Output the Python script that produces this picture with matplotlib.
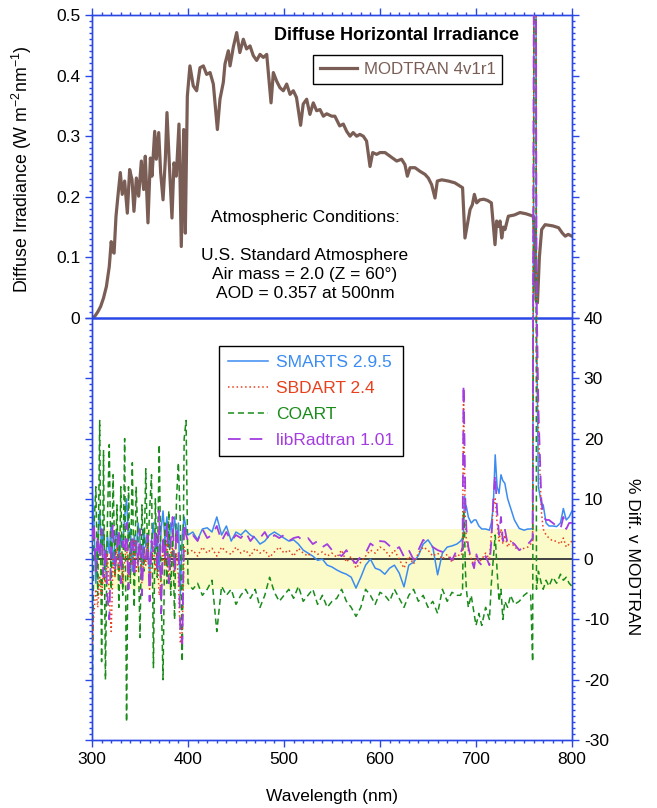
import numpy as np
import matplotlib
matplotlib.use('Agg')
import matplotlib.pyplot as plt
from matplotlib.ticker import FixedLocator, FuncFormatter

plt.rcParams['font.family'] = ['Liberation Sans', 'DejaVu Sans']
plt.rcParams['mathtext.fontset'] = 'custom'
plt.rcParams['mathtext.rm'] = 'Liberation Sans'
plt.rcParams['axes.unicode_minus'] = False
plt.rcParams['font.size'] = 12.5

# --- MODTRAN diffuse irradiance (W m-2 nm-1) ---
modtran_wl = [300, 303, 306, 309, 312, 315, 318, 320, 321.5, 323, 325, 327, 329.5, 331.5, 334,
              336.8, 339.2, 341.7, 343.7, 346.2, 348.6, 351.4, 353.8, 355.5, 358.3, 360.8, 362.5,
              365.3, 367, 369.5, 371.5, 374, 376.4, 378.1, 380.5, 383.3, 385.4, 387.8, 390.6, 393,
              395.5, 397.2, 399.3, 402, 405.5, 409, 412.5, 416, 419.4, 423, 426.4, 430.6, 433.3,
              436.8, 438.5, 442, 443.8, 447.2, 450.7, 454, 457.6, 461, 464.6, 468, 471.5, 475,
              478.5, 482, 486.5, 488.9, 492.3, 495.8, 499.3, 502.8, 506.3, 509.7, 513, 517.3, 520,
              523.6, 527, 530.5, 534, 537.5, 541, 544.5, 549.7, 553, 558, 561.8, 565.3, 568.8, 572,
              575.7, 579, 582.6, 586, 589.6, 592.4, 596.5, 600, 605.2, 610.4, 617.4, 622.5, 626,
              628.5, 631.3, 636.5, 641.7, 646.9, 650.3, 653.8, 657.3, 659.7, 664.3, 671.2, 678, 686,
              688.5, 691, 693.8, 696.2, 698.3, 700.7, 704, 708, 712, 716, 719.8, 721.5, 723.3, 725,
              726.8, 728.5, 730.2, 733.7, 740, 745.8, 752, 759.7, 761, 762.5, 764, 766, 768.4, 772,
              780, 786, 790, 793, 796, 800]
modtran = [0.0, 0.003, 0.010, 0.019, 0.033, 0.052, 0.085, 0.126, 0.110, 0.107, 0.168, 0.201, 0.240,
           0.204, 0.226, 0.173, 0.245, 0.228, 0.176, 0.231, 0.201, 0.259, 0.212, 0.267, 0.157, 0.264,
           0.234, 0.308, 0.262, 0.306, 0.240, 0.195, 0.262, 0.339, 0.256, 0.165, 0.256, 0.234, 0.320,
           0.118, 0.311, 0.140, 0.366, 0.416, 0.383, 0.375, 0.413, 0.416, 0.402, 0.405, 0.386, 0.311,
           0.361, 0.389, 0.419, 0.441, 0.416, 0.447, 0.471, 0.438, 0.460, 0.444, 0.449, 0.433, 0.425,
           0.435, 0.430, 0.435, 0.355, 0.405, 0.391, 0.380, 0.375, 0.386, 0.369, 0.375, 0.364, 0.318,
           0.353, 0.361, 0.336, 0.355, 0.342, 0.344, 0.333, 0.337, 0.333, 0.333, 0.317, 0.320, 0.308,
           0.300, 0.306, 0.300, 0.303, 0.300, 0.292, 0.250, 0.273, 0.270, 0.273, 0.273, 0.267, 0.259,
           0.262, 0.253, 0.234, 0.248, 0.248, 0.242, 0.237, 0.231, 0.220, 0.198, 0.226, 0.228, 0.226,
           0.223, 0.215, 0.132, 0.154, 0.179, 0.187, 0.204, 0.190, 0.195, 0.196, 0.194, 0.190, 0.121,
           0.160, 0.151, 0.160, 0.132, 0.150, 0.146, 0.168, 0.170, 0.174, 0.172, 0.168, 0.140, 0.030,
           0.025, 0.100, 0.146, 0.154, 0.152, 0.149, 0.140, 0.135, 0.138, 0.135]

# --- % difference vs MODTRAN, sampled wavelengths ---
diff_wl = (list(range(300, 401, 2)) + list(range(405, 681, 5)) +
           [684, 686, 687, 688, 689, 690, 692, 695, 698, 700, 703, 706, 710, 714, 716, 718, 720,
            722, 724, 726, 728, 730, 733, 736, 740, 745, 750, 754, 757, 759, 760, 761, 762, 763,
            765, 768, 770, 773, 776, 780, 784, 788, 791, 794, 797, 800])

smarts = ([12, 6, -4, 3, 8, 2, 5, -2, 4, 1, 6, -1, 3, 5, 0, 4, 2, 7, 10, 3, 5, -2, 4, 1, 6, 3, -1,
           5, 2, 4, -3, 3, 6, 1, 4, -2, 5, 8, 3, 7, 2, 6, 4, 7, 3, 6, -6, 4, 7, 5, 4] +
          [4.5, 3.2, 5, 5.2, 4.5, 7, 4, 5.5, 3, 4.5, 4, 4.8, 4, 3.5, 2.5, 3, 4, 4.5, 4, 3.5, 3, 3.2,
           2.5, 1.5, 1, 0.5, -0.2, 0, -1, -1.3, -1.8, -2.2, -2.5, -3, -4.8, -3, -1, 0, -1.5, -1.8,
           -2.5, -1.5, -1, -2.3, -4.6, -1, -0.5, 0.6, 2.5, 3.2, 2, -2.6, 1, 2, 2.2, 2.5] +
          [3, 3.5, 4.3, 10.4, 9, 8.7, 7, 6, 6.5, 6.5, 5.5, 5, 5, 4.8, 6, 8.7, 17.3, 12, 10.9, 14, 13,
           12.6, 10, 8.5, 6.5, 5.1, 4.8, 5, 5, 5.1, 60, 150, 150, 40, 12, 9.3, 9, 6, 5.5, 5.5, 5.4,
           6, 8.4, 6.5, 7, 8])

sbdart = ([-14, -9, -5, -8, -3, -6, -2, -4, 1, -6, -12, 0, -3, 2, -2, 1, -4, 0, 2, -3, 1, -1, 3,
           -2, 0, 2, -4, 1, -1, 3, -5, 0, 2, -2, 1, -6, -3, 2, -1, 3, -4, 1, 2, -2, 1, -3, -14, -12,
           2, 1, 1] +
          [1.5, 0.5, 2, 1, 1.8, 0.5, 2, 1.2, 0.8, 2, 1, 1.5, 0.5, 1.8, 1, 1.5, 0.3, 1.2, 2, 1, 1.5,
           0.5, 1.8, 1, 0.5, 1.5, 0.8, 1.2, 0.5, 1, 0.3, 1.5, -0.5, 0.5, -1.5, -0.5, 0.5, 1.5, 1, 2,
           1.5, 0.5, 1.5, 0, -1.5, 0.5, -0.8, 1, 2, 1.5, 0.5, 1, 0, 0.8, -0.5, 0.8] +
          [0.5, 1, 27, 15, 6, 3, 1.5, 0, -1, 0.5, -0.5, 0, 1, 0, 4, 9, 10, 6, 3, 5, 2.5, 4, 2, 3, 2,
           1.5, 1.8, 2, 2.5, 3, 70, 150, 150, 35, 22, 8, 5, 4, 3.5, 3, 3, 2.5, 3.5, 2, 2.5, 3])

coart = ([-30, 5, 12, -6, 23, -17, 18, -20, 6, 19, -5, 14, -3, 9, -8, 12, -6, 20, -27, 12, -4, 16,
          -8, 12, 3, -13, 9, -2, 15, 0, 8, 14, -18, 10, -3, 19, -5, -20, 6, -4, 8, -6, 5, -10, 10,
          16, 6, -17, 20, 23, -4] +
         [-5, -4, -6, -5, -3.5, -12, -4.5, -6, -5, -7.5, -6, -5, -6.5, -5, -8, -6, -3, -5.5, -7, -6,
          -5, -6.5, -4.5, -7, -6, -5, -7.5, -6, -8, -7, -6.5, -5, -7, -8, -9.5, -8, -5, -6, -7.5,
          -5.5, -6, -7, -5, -6.5, -8, -6, -5, -7, -6, -8, -7, -9, -5, -7, -5.5, -6] +
         [-6, -5, 8, 5, -2, -5, -8, -6, -9, -11, -9, -11, -8, -10, -4, 0, 4, -2, -7, -5, -10, -7, -8,
          -6, -7.5, -7, -6, -5.5, -6, -17, 60, 150, 150, -5, -2, -4, -5, -3.5, -4.5, -3, -4, -2.5,
          -3.5, -3, -4, -4.5])

libradtran = ([3, 6, -2, 4, 0, 5, -3, 2, -6, -10, 3, 6, -2, 2, 5, -4, 3, 1, 6, -5, 2, 4, -3, 3, -1,
               5, -6, 2, 0, 4, -7, 3, 1, 5, -2, 8, -9, 4, 0, 6, -4, 3, 7, -2, 5, 2, -12, -14, 6, 4,
               3] +
              [4, 3, 5, 3.5, 4, 5.5, 3, 4.5, 3, 4, 3.5, 4.5, 3, 4, 3.5, 4.5, 3, 4, 3.5, 4, 3, 3.5,
               3.7, 3, 3.5, 2.5, 3, 2, 2.5, 1.5, 1, 0.5, 1.5, 0, -0.7, 0.5, 1, 2.6, 2, 3, 2.9, 2.2,
               1.5, 2, 0.4, 1.5, -0.1, 1.5, 3.2, 2.6, 2, 1.5, 1.2, 1, -0.2, 1.5] +
              [1, 2, 29, 20, 9, 5, 2, 0, -1.5, 1, -0.5, -1, 0.5, -1, 3, 10, 14, 8, 4, 7, 3, 5, 2.5,
               3, 2.5, 1.5, 2, 2.5, 3, 3.5, 80, 150, 150, 45, 25, 10, 7, 6.5, 6.5, 6, 5.5, 5, 7, 5,
               6, 6])

axis_blue = '#2a48e6'
c_mod = '#7a5e55'
c_smarts = '#3a8cf2'
c_sbdart = '#e8401c'
c_coart = '#1a8c1a'
c_lib = '#a33de0'

fig = plt.figure(figsize=(6.57, 8.08), dpi=100)
ax1 = fig.add_axes([92 / 657, 1 - 740 / 808, 480 / 657, 725 / 808])
ax2 = ax1.twinx()

# top panel: irradiance
mod_line, = ax1.plot(modtran_wl, modtran, color=c_mod, lw=2.3, label='MODTRAN 4v1r1')
ax1.set_xlim(300, 800)
ax1.set_ylim(-0.6964, 0.5)
ax1.yaxis.set_major_locator(FixedLocator([0, 0.1, 0.2, 0.3, 0.4, 0.5]))
ax1.yaxis.set_minor_locator(FixedLocator(np.linspace(0, 0.5, 51)))
ax1.yaxis.set_major_formatter(FuncFormatter(lambda v, p: '0' if abs(v) < 1e-9 else '%.1f' % v))
ax1.xaxis.set_major_locator(FixedLocator([300, 400, 500, 600, 700, 800]))
ax1.xaxis.set_minor_locator(FixedLocator(list(range(300, 801, 10))))
ax1.xaxis.set_ticks_position('both')
ax1.yaxis.set_ticks_position('both')
ax1.tick_params(which='both', direction='out', color=axis_blue, labelright=False, labeltop=False)
ax1.tick_params(which='major', length=5, width=1)
ax1.tick_params(which='minor', length=2.5, width=1)

# bottom panel: % difference
ax2.set_ylim(-30, 90.26)
ax2.fill_between([300, 800], -5, 5, color='#fbfbca', lw=0, zorder=0)
ax2.axhline(0, color='#404040', lw=1.4, zorder=1)
ax2.axhline(40, color=axis_blue, lw=1.8, zorder=1)
l_sm, = ax2.plot(diff_wl, smarts, color=c_smarts, lw=1.1, label='SMARTS 2.9.5', zorder=2)
l_co, = ax2.plot(diff_wl, coart, color=c_coart, lw=1.1, dashes=(4, 2.5), label='COART', zorder=2)
l_sb, = ax2.plot(diff_wl, sbdart, color=c_sbdart, lw=1.1, dashes=(1, 1.8), label='SBDART 2.4', zorder=3)
l_li, = ax2.plot(diff_wl, libradtran, color=c_lib, lw=1.3, dashes=(7, 5), label='libRadtran 1.01', zorder=3)
ax2.yaxis.set_major_locator(FixedLocator(list(range(-30, 41, 10))))
ax2.yaxis.set_minor_locator(FixedLocator(list(range(-30, 41, 1))))
ax2.yaxis.set_ticks_position('both')
ax2.tick_params(which='both', direction='out', color=axis_blue, labelleft=False, labelright=True)
ax2.tick_params(which='major', length=5, width=1)
ax2.tick_params(which='minor', length=2.5, width=1)
ax2.set_xlim(300, 800)

for ax in (ax1, ax2):
    for sp in ax.spines.values():
        sp.set_color(axis_blue)
        sp.set_linewidth(1.0)

leg1 = ax1.legend(handles=[mod_line], loc='upper left', bbox_to_anchor=(313 / 657, 1 - 55 / 808),
                  bbox_transform=fig.transFigure, borderaxespad=0, fancybox=False,
                  edgecolor='black', framealpha=1, handlelength=2.2, handletextpad=0.4,
                  labelcolor='linecolor', fontsize=12.2)
leg1.get_frame().set_linewidth(1.0)

leg2 = ax2.legend(handles=[l_sm, l_sb, l_co, l_li], loc='upper left',
                  bbox_to_anchor=(219 / 657, 1 - 346 / 808), bbox_transform=fig.transFigure,
                  borderaxespad=0, fancybox=False, edgecolor='black', framealpha=1,
                  handlelength=2.3, handletextpad=0.5, labelspacing=0.62, borderpad=0.5,
                  labelcolor='linecolor', fontsize=12.5)
leg2.get_frame().set_linewidth(1.0)

fig.text(396 / 657, 1 - 35 / 808, 'Diffuse Horizontal Irradiance', weight='bold',
         ha='center', va='center', fontsize=13)
fig.text(305 / 657, 1 - 210 / 808,
         'Atmospheric Conditions:\n\nU.S. Standard Atmosphere\nAir mass = 2.0 (Z = 60\u00b0)\nAOD = 0.357 at 500nm',
         ha='center', va='top', multialignment='center', linespacing=1.33)
fig.text(22 / 657, 1 - 169 / 808, 'Diffuse Irradiance (W m$^{-2}$nm$^{-1}$)', rotation=90,
         ha='center', va='center', fontsize=12.8)
fig.text(632 / 657, 1 - 557 / 808, '% Diff. v MODTRAN', rotation=270,
         ha='center', va='center')
fig.text(332 / 657, 1 - 797 / 808, 'Wavelength (nm)', ha='center', va='center')

fig.savefig('out.png', dpi=100)
